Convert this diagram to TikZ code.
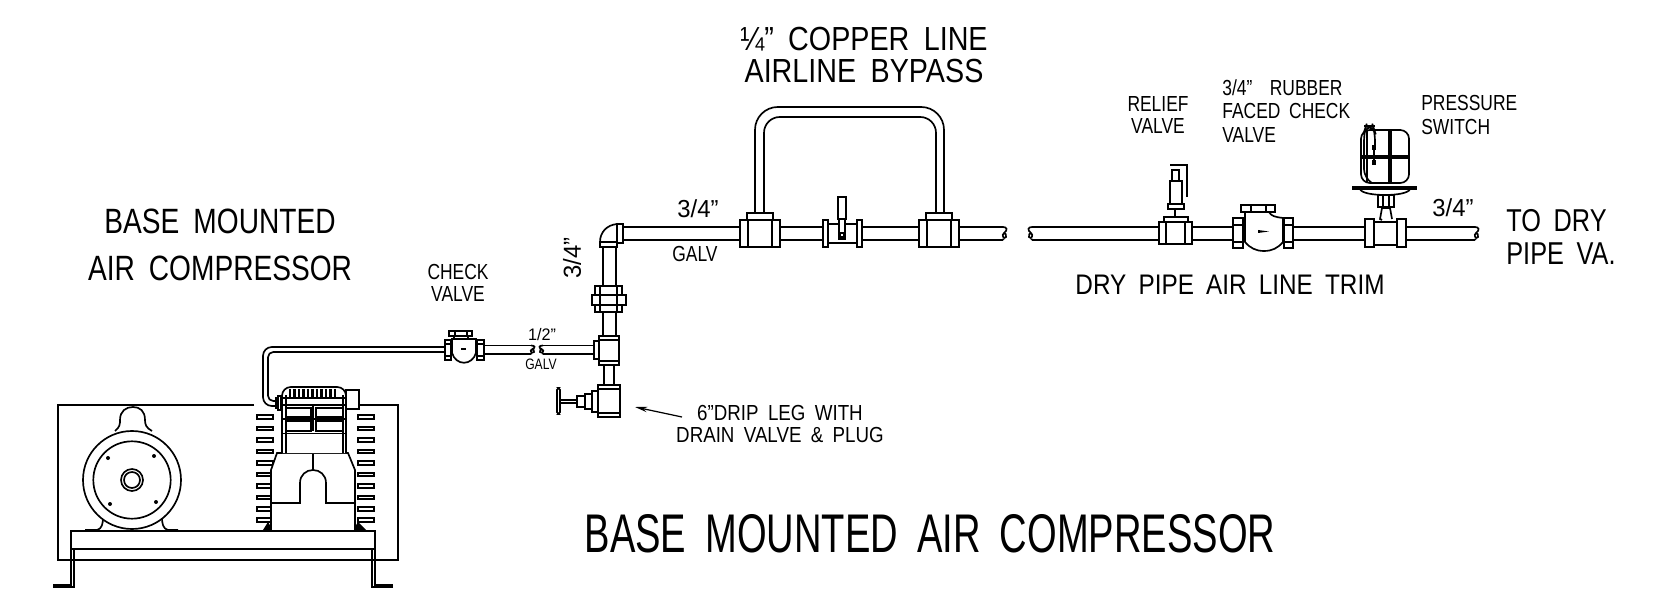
\documentclass[tikz,border=0pt]{standalone}
\usepackage{fontspec}
\setmainfont{Liberation Sans}[FakeStretch=0.8,WordSpace=1.8]
\newfontfamily\fontwide{Liberation Sans}[FakeStretch=0.86,WordSpace=1.8]
\newfontfamily\fontdim{Liberation Sans}[FakeStretch=0.97]
\newfontfamily\fonttitle{Liberation Sans}[FakeStretch=0.7,WordSpace=1.8]
\usetikzlibrary{arrows.meta}

\tikzset{
    pipe/.style={line width=0.95pt},
    detail/.style={line width=0.7pt},
    part/.style={draw, fill=white, line width=0.95pt},
    pipeend/.pic={
        \draw[pipe] (0,0) .. controls (4,0) and (5,3) .. (1,6) .. controls (-2,8) and (1,13) .. (3,10) .. controls (4,8) and (2,6) .. (1,6);
        \draw[pipe] (0,13) .. controls (-1,13) and (-1,13) .. (1,12);
    },
    lblsmall/.style={font=\fontsize{8.6pt}{10pt}\selectfont, align=center, inner sep=0pt},
    lblhalf/.style={font=\fontdim\fontsize{9.5pt}{10pt}\selectfont, inner sep=0pt},
    lblnote/.style={font=\fontsize{12.4pt}{12.6pt}\selectfont, align=center, inner sep=0pt},
    lbldrip/.style={font=\fontwide\fontsize{12.4pt}{13pt}\selectfont, align=center, inner sep=0pt},
    lblleft/.style={font=\fontsize{12.4pt}{13.4pt}\selectfont, align=left, inner sep=0pt},
    lblsize/.style={font=\fontdim\fontsize{14pt}{15pt}\selectfont, inner sep=0pt},
    lbltrim/.style={font=\fontwide\fontsize{16.1pt}{18pt}\selectfont, inner sep=0pt},
    lbllarge/.style={font=\fontwide\fontsize{19pt}{18.7pt}\selectfont, align=center, inner sep=0pt},
    lblto/.style={font=\fontsize{18pt}{18.7pt}\selectfont, align=left, inner sep=0pt},
    lblbase/.style={font=\fontsize{20pt}{27pt}\selectfont, align=center, inner sep=0pt},
    lbltitle/.style={font=\fonttitle\fontsize{31pt}{32pt}\selectfont, inner sep=0pt},
}

\begin{document}
\begin{tikzpicture}[x=0.02cm, y=-0.02cm]

    \useasboundingbox (0,0) rectangle (1653,604);

    % back plate and skid
    \draw[pipe] (254,405) -- (58,405) -- (58,560) -- (398,560) -- (398,405) -- (359,405);
    \draw[part] (71,531) rectangle (375,549);
    \draw[pipe] (53,587) -- (74,587) -- (74,549);
    \draw[pipe] (53,585) -- (71,585) -- (71,549);
    \draw[pipe] (393,587) -- (372,587) -- (372,549);
    \draw[pipe] (393,585) -- (375,585) -- (375,549);

    % motor
    \draw[part] (115,431) .. controls (120,427) and (120,424) .. (120,420) .. controls (120,411) and (126,407) .. (133,407) .. controls (140,407) and (145,411) .. (145,420) .. controls (145,424) and (146,428) .. (152,431);
    \draw[pipe] (85,530) -- (97,530) .. controls (102,529) and (103,523) .. (103,518);
    \draw[pipe] (178,530) -- (168,530) .. controls (163,529) and (162,523) .. (162,518);
    \draw[part] (132,480) circle[radius=49];
    \draw[pipe] (132,480) circle[radius=38.7];
    \draw[pipe] (132,480) circle[radius=11];
    \draw[pipe] (132,480) circle[radius=8];
    \foreach \bx/\by in {108/458, 154/456, 110/504, 156/502}
        \fill (\bx,\by) circle[radius=2];

    % cooling fins
    \foreach \fy in {417, 428.5, 440, 451.5, 463, 474.5, 486, 497.5, 509, 520} {
        \draw[part] (257,\fy-1.8) rectangle (273,\fy+1.8);
        \draw[part] (358,\fy-1.8) rectangle (374,\fy+1.8);
    }
    \fill (263,530) -- (268,522) -- (273,530) -- cycle;
    \fill (353,530) -- (358,522) -- (366,530) -- cycle;

    % compressor crankcase
    \draw[part] (277,453) -- (348,453) -- (355,470) -- (355,531) -- (271,531) -- (271,470) -- cycle;
    \draw[pipe] (313,453) -- (313,470);
    \draw[pipe] (271,503) -- (300,503) -- (300,483) .. controls (300,475) and (306,470) .. (313,470) .. controls (320,470) and (326,475) .. (326,483) -- (326,503) -- (355,503);

    % compressor head
    \draw[part] (346,390) rectangle (359,409);
    \draw[part, rounded corners=5pt] (282,453) -- (282,387) -- (346,387) -- (346,453);
    \draw[pipe] (286,453) -- (286,395);
    \draw[pipe] (343,453) -- (343,395);
    \draw[pipe] (282,398) -- (346,398);
    \foreach \fx in {290,294.5,...,336}
        \draw[line width=1.5pt] (\fx,389) -- (\fx,397);
    \draw[detail] (282,405) -- (346,405);
    \draw[detail] (286,408) rectangle (311,417);
    \draw[detail] (316,408) rectangle (343,417);
    \draw[detail] (286,421) rectangle (311,431);
    \draw[detail] (316,421) rectangle (343,431);
    \draw[detail] (313,405) -- (313,431);
    \draw[pipe] (282,419) -- (346,419);
    \draw[pipe] (282,433.5) -- (346,433.5);

    % discharge line
    \draw[pipe, rounded corners=5pt] (276,406) -- (263,406) -- (263,347) -- (446,347);
    \draw[pipe, rounded corners=3pt] (276,401) -- (268,401) -- (268,352) -- (446,352);
    \draw[part] (276,398) rectangle (282,408);
    \draw[part] (278,396) rectangle (281,410);

    % first check valve
    \draw[part] (452,339) -- (476,339) -- (476,353) .. controls (472,366) and (456,366) .. (452,353) -- cycle;
    \draw[part] (445,340) rectangle (451,360);
    \draw[pipe] (445,344) -- (451,344);
    \draw[pipe] (445,356) -- (451,356);
    \draw[part] (477,340) rectangle (484,360);
    \draw[pipe] (477,344) -- (484,344);
    \draw[pipe] (477,356) -- (484,356);
    \draw[part] (449,331) rectangle (472,336);
    \draw[pipe] (455,331) -- (455,336);
    \draw[pipe] (467,331) -- (467,336);
    \draw[pipe] (454,336) -- (454,339);
    \draw[pipe] (468,336) -- (468,339);
    \draw[line width=1.3pt] (461,349) -- (466,349);

    % half inch line with break
    \draw[pipe] (484,345.5) -- (531,345.5);
    \draw[pipe] (484,354) -- (531,354);
    \draw[pipe] (543,345.5) -- (594,345.5);
    \draw[pipe] (543,354) -- (594,354);
    \pic at (531,345.5) [yscale=0.65] {pipeend};
    \pic at (543,345.5) [xscale=-1, yscale=0.65] {pipeend};

    % riser
    \draw[pipe] (603,247) -- (603,336);
    \draw[pipe] (616,247) -- (616,336);
    \draw[part] (595,286) rectangle (622,312);
    \draw[part] (592,295) rectangle (626,305);
    \draw[pipe] (600,286) -- (600,312);
    \draw[pipe] (617,286) -- (617,312);
    \draw[pipe] (604,365) -- (604,385);
    \draw[pipe] (614,365) -- (614,385);

    % branch tee
    \draw[part] (599,336) rectangle (619,365);
    \draw[pipe] (599,340) -- (619,340);
    \draw[pipe] (599,361) -- (619,361);
    \draw[part] (594,341) rectangle (599,359);

    % drip leg tee and drain valve
    \draw[part] (598,385) rectangle (620,417);
    \draw[pipe] (598,389) -- (620,389);
    \draw[pipe] (598,413) -- (620,413);
    \draw[part] (592,391) rectangle (598,412);
    \draw[part] (585,394) rectangle (592,409);
    \draw[part] (577,396) rectangle (585,407);
    \draw[part] (560,400) rectangle (577,403);
    \draw[part, rounded corners=1pt] (557,388) rectangle (560,414);

    % elbow
    \draw[pipe] (623,227) -- (740,227);
    \draw[pipe] (623,240) -- (740,240);
    \draw[part] (600,242) .. controls (600,232) and (607,225) .. (617,224) -- (617,242) -- cycle;
    \draw[part] (617,224) rectangle (623,243);
    \draw[part] (600,242) rectangle (617,247);

    % line with bypass
    \draw[pipe] (780,227) -- (1003,227);
    \draw[pipe] (780,240) -- (1003,240);
    \pic at (1003,227) {pipeend};

    \draw[pipe, rounded corners=13pt] (755,213) -- (755,107) -- (944,107) -- (944,213);
    \draw[pipe, rounded corners=9pt] (764,213) -- (764,117) -- (936,117) -- (936,213);

    \foreach \tx in {740, 919} {
        \draw[part] (\tx,220) rectangle (\tx+40,247);
        \draw[pipe] (\tx+8,220) -- (\tx+8,247);
        \draw[pipe] (\tx+32,220) -- (\tx+32,247);
        \draw[part] (\tx+7,213) rectangle (\tx+33,220);
    }

    % bypass valve
    \draw[part] (823,220) -- (828,220) -- (828,224) -- (857,224) -- (857,220) -- (862,220) -- (862,247) -- (857,247) -- (857,243) -- (828,243) -- (828,247) -- (823,247) -- cycle;
    \draw[pipe] (828,224) -- (828,243);
    \draw[pipe] (857,224) -- (857,243);
    \draw[part] (838,197) rectangle (846,219);
    \draw[part] (839,219) rectangle (845,239);
    \draw[pipe] (840,233) rectangle (844,237);

    % dry pipe trim
    \draw[pipe] (1032,227) -- (1365,227);
    \draw[pipe] (1032,240) -- (1365,240);
    \draw[pipe] (1406,227) -- (1475,227);
    \draw[pipe] (1406,240) -- (1475,240);
    \pic at (1032,227) [xscale=-1] {pipeend};
    \pic at (1475,227) {pipeend};

    % relief valve
    \draw[part] (1159,222) rectangle (1192,244);
    \draw[pipe] (1166,222) -- (1166,244);
    \draw[pipe] (1185,222) -- (1185,244);
    \draw[part] (1164,217) rectangle (1188,222);
    \draw[pipe] (1175,209) -- (1175,217);
    \draw[part] (1168,204) rectangle (1184,209);
    \draw[part] (1170,181) rectangle (1182,204);
    \draw[part] (1172,170) rectangle (1179,181);
    \draw[pipe] (1170,165) -- (1187,165) -- (1187,197);

    % rubber faced check valve
    \draw[part] (1245,212) -- (1269,212) .. controls (1271,216) and (1275,217) .. (1283,218) -- (1283,242) .. controls (1278,248) and (1272,251) .. (1264,251) .. controls (1256,251) and (1250,248) .. (1245,242) -- cycle;
    \draw[part] (1233,218) rectangle (1243,248);
    \draw[pipe] (1233,225) -- (1243,225);
    \draw[pipe] (1233,242) -- (1243,242);
    \draw[part] (1284,218) rectangle (1293,248);
    \draw[pipe] (1284,225) -- (1293,225);
    \draw[pipe] (1284,242) -- (1293,242);
    \draw[part] (1241,205) rectangle (1275,212);
    \draw[pipe] (1251,205) -- (1251,212);
    \draw[pipe] (1266,205) -- (1266,212);
    \fill (1258,230) -- (1269,231.5) -- (1258,233) -- cycle;

    % pressure switch
    \draw[part] (1382,220) -- (1380,219) -- (1382,208) -- (1390,208) -- (1392,219);
    \draw[part] (1378,195) rectangle (1394,207);
    \draw[pipe] (1383,195) -- (1383,207);
    \draw[pipe] (1389,195) -- (1389,207);
    \draw[part] (1374,222) rectangle (1397,245);
    \draw[part] (1365,219) rectangle (1374,247);
    \draw[part] (1397,219) rectangle (1406,247);
    \draw[part] (1360,189) .. controls (1362,197) and (1408,197) .. (1410,189) -- cycle;
    \draw[part, rounded corners=5pt] (1361,183) rectangle (1409,130);
    \draw[line width=2.2pt] (1352,188) -- (1417,188);
    \draw[pipe, rounded corners=5pt] (1372,183) -- (1364,178) -- (1364,132) -- (1366,126) -- (1373,126) -- (1375,132) -- (1375,148);
    \draw[detail, rounded corners=5pt] (1367,183) -- (1367,130);
    \draw[pipe] (1389,130) -- (1389,183);
    \draw[pipe] (1391,130) -- (1391,183);
    \draw[line width=1.8pt] (1361,157) -- (1409,157);
    \fill (1372,145) rectangle (1376,150);
    \fill (1372,160) rectangle (1376,165);
    \draw[pipe] (1374,150) -- (1374,160);

    % size labels
    \node[lblsize] (mainsize) at (698,209) {3/4”};
    \node[lblnote] (maingalv) at (695,254) {GALV};
    \node[lblsize, rotate=90] (risersize) at (572,258) {3/4”};
    \node[lblhalf] (halfsize) at (542,335) {1/2”};
    \node[lblsmall] (halfgalv) at (541,364) {GALV};
    \node[lblsize] (trimsize) at (1453,208) {3/4”};

    % notes
    \node[lbllarge] (bypass) at (864,55) {¼” COPPER LINE\\AIRLINE BYPASS};
    \node[lblbase] (basenote) at (220,245) {BASE MOUNTED\\AIR COMPRESSOR};
    \node[lblnote] (checknote) at (458,283) {CHECK\\VALVE};
    \node[lblnote] (reliefnote) at (1158,115) {RELIEF\\VALVE};
    \node[lblleft, anchor=west] (rubbernote) at (1222,111) {3/4”\hspace{5pt} RUBBER\\FACED CHECK\\VALVE};
    \node[lblleft, anchor=west] (switchnote) at (1421,115) {PRESSURE\\SWITCH};
    \node[lbldrip] (dripnote) at (780,424) {6”DRIP LEG WITH\\DRAIN VALVE \& PLUG};
    \node[lbltrim] (trimnote) at (1230,285) {DRY PIPE AIR LINE TRIM};
    \node[lblto, anchor=west] (tonote) at (1506,237) {TO DRY\\PIPE VA.};
    \node[lbltitle] (title) at (930,534) {BASE MOUNTED AIR COMPRESSOR};

    \coordinate (driptail) at (682,417);
    \coordinate (driptip) at (635,407);
    \draw[-{Stealth[length=7pt,width=3pt]}, line width=0.7pt] (driptail) -- (driptip);

\end{tikzpicture}
\end{document}
